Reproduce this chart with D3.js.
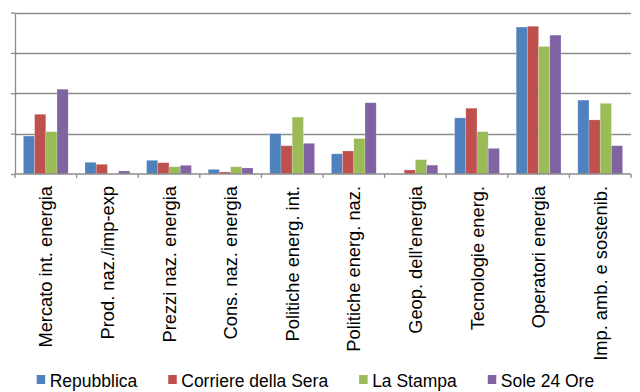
<!DOCTYPE html>
<html><head><meta charset="utf-8">
<script src="https://cdn.jsdelivr.net/npm/d3@7"></script>
<style>html,body{margin:0;padding:0;background:#fff;}svg{display:block;}</style>
</head><body>
<svg id="c" width="640" height="392"></svg>
<script>
const categories = ["Mercato int. energia","Prod. naz./imp-exp","Prezzi naz. energia","Cons. naz. energia","Politiche energ. int.","Politiche energ. naz.","Geop. dell'energia","Tecnologie energ.","Operatori energia","Imp. amb. e sostenib."];
const seriesNames = ["Repubblica","Corriere della Sera","La Stampa","Sole 24 Ore"];
const repubblica = [9.4, 2.9, 3.4, 1.15, 10.0, 5.0, 0, 13.9, 36.4, 18.3];
const corriere   = [14.8, 2.4, 2.8, 0.5, 7.0, 5.7, 1.0, 16.3, 36.6, 13.4];
const stampa     = [10.5, 0, 1.8, 1.8, 14.1, 8.8, 3.55, 10.5, 31.6, 17.5];
const sole       = [21.0, 0.75, 2.15, 1.5, 7.6, 17.65, 2.2, 6.35, 34.4, 7.0];
const yTicks = [0, 10, 20, 30, 40];
const colors = ["#4F81BD","#C0504D","#9BBB59","#8064A2"];
const seriesValues = [repubblica, corriere, stampa, sole];

const svg = d3.select("#c");
const mLeft = 15, mRight = 631, mTop = 12.5, mBottom = 174;
const x = d3.scaleBand().domain(categories).range([mLeft, mRight]).paddingInner(0).paddingOuter(0);
const x1 = d3.scaleBand().domain(seriesNames).range([0, x.bandwidth()]).paddingOuter(0.75).paddingInner(0);
const y = d3.scaleLinear().domain([0, 40]).range([mBottom, mTop]);

// gridlines
svg.append("g").selectAll("line").data(yTicks.slice(1)).join("line")
  .attr("x1", mLeft).attr("x2", mRight)
  .attr("y1", d => Math.round(y(d)) + 0.5).attr("y2", d => Math.round(y(d)) + 0.5)
  .attr("stroke", "#8c8c8c").attr("stroke-width", 1.3);

// bars
const groups = svg.append("g").selectAll("g").data(categories).join("g")
  .attr("transform", c => `translate(${x(c)},0)`);
groups.selectAll("rect").data((c, i) => seriesNames.map((s, j) => ({s, j, v: seriesValues[j][i]})))
  .join("rect")
  .attr("x", d => x1(d.s)).attr("width", x1.bandwidth())
  .attr("y", d => y(d.v)).attr("height", d => y(0) - y(d.v))
  .attr("fill", d => colors[d.j])
  .attr("stroke", "rgba(255,255,255,0.35)").attr("stroke-width", 0.6);

// y axis
const yAxis = d3.axisLeft(y).tickValues(yTicks).tickFormat("").tickSize(4).tickSizeOuter(0);
const ya = svg.append("g").attr("transform", `translate(${mLeft},0)`).call(yAxis);
ya.selectAll("path,line").attr("stroke", "#8c8c8c").attr("stroke-width", 1.3);

// x axis
const xTickPos = categories.map(c => x(c)).concat([mRight]);
const xa = svg.append("g");
xa.append("line").attr("x1", mLeft).attr("x2", mRight).attr("y1", mBottom).attr("y2", mBottom)
  .attr("stroke", "#8c8c8c").attr("stroke-width", 1.3);
xa.selectAll("line.t").data(xTickPos).join("line").attr("class","t")
  .attr("x1", d => d).attr("x2", d => d).attr("y1", mBottom).attr("y2", mBottom + 4)
  .attr("stroke", "#8c8c8c").attr("stroke-width", 1.3);

// category labels
svg.append("g").selectAll("text").data(categories).join("text")
  .attr("transform", c => `translate(${x(c) + x.bandwidth()/2 + 6.5},186) rotate(-90)`)
  .attr("text-anchor", "end")
  .attr("font-family", "Liberation Sans, Arial, sans-serif")
  .attr("font-size", 18.3).attr("fill", "#000")
  .text(c => c);

// legend
const lg = svg.append("g").attr("font-family", "Liberation Sans, Arial, sans-serif").attr("font-size", 17.5);
let lx = 36.7;
seriesNames.forEach((s, i) => {
  lg.append("rect").attr("x", lx).attr("y", 375).attr("width", 8.5).attr("height", 9).attr("fill", colors[i]);
  const t = lg.append("text").attr("x", lx + 13).attr("y", 386.5).attr("fill", "#000").text(s);
  lx += 13 + t.node().getComputedTextLength() + 31;
});
</script>
</body></html>
